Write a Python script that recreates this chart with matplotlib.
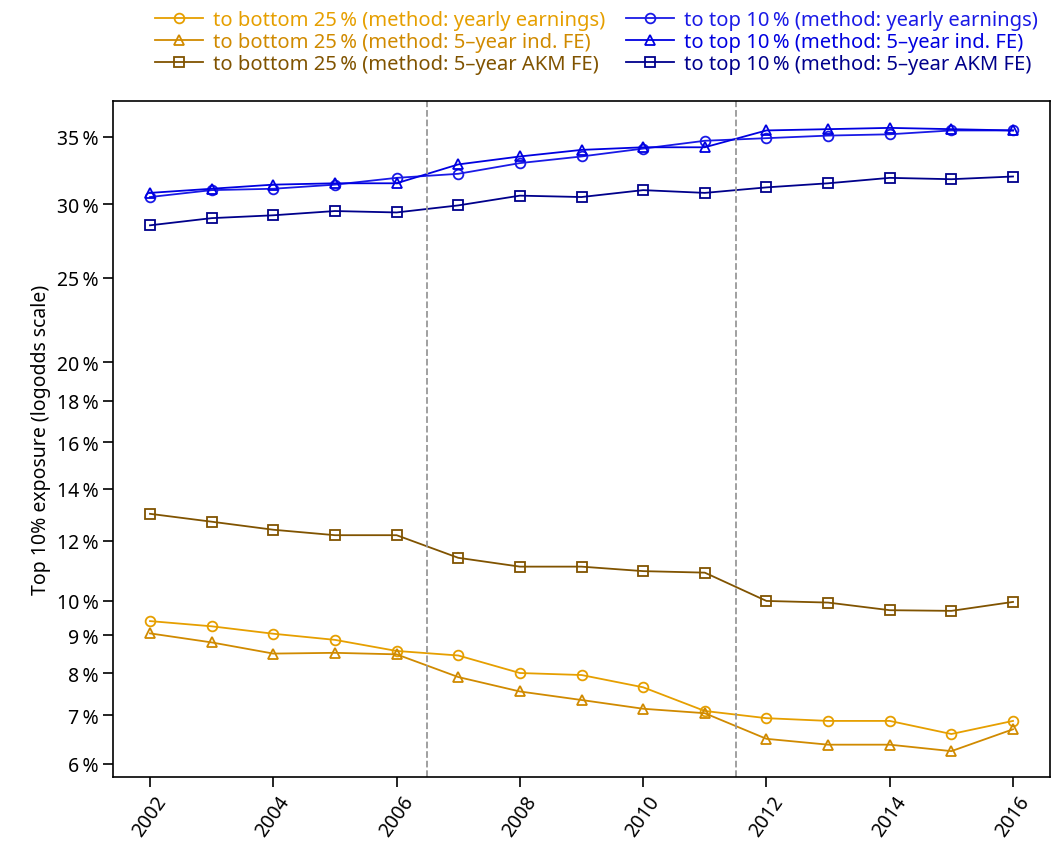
import numpy as np
import matplotlib
matplotlib.use("Agg")
import matplotlib.pyplot as plt

plt.rcParams['font.family'] = ['Noto Sans', 'DejaVu Sans']

years = list(range(2002, 2017))
top_yearly = [30.5, 31.0, 31.1, 31.4, 31.9, 32.2, 33.0, 33.5, 34.1, 34.7, 34.9, 35.1, 35.2, 35.5, 35.5]
top_ind = [30.8, 31.1, 31.4, 31.5, 31.5, 32.9, 33.5, 34.0, 34.2, 34.2, 35.5, 35.6, 35.7, 35.6, 35.5]
top_akm = [28.5, 29.0, 29.2, 29.5, 29.4, 29.9, 30.6, 30.5, 31.0, 30.8, 31.2, 31.5, 31.9, 31.8, 32.0]
bot_yearly = [9.4, 9.25, 9.04, 8.87, 8.57, 8.45, 8.0, 7.95, 7.65, 7.1, 6.94, 6.88, 6.88, 6.6, 6.88]
bot_ind = [9.05, 8.8, 8.5, 8.52, 8.48, 7.9, 7.55, 7.35, 7.15, 7.05, 6.5, 6.38, 6.38, 6.25, 6.7]
bot_akm = [13.0, 12.7, 12.4, 12.2, 12.2, 11.4, 11.1, 11.1, 10.95, 10.9, 10.0, 9.95, 9.72, 9.7, 9.97]
yticks = [6, 7, 8, 9, 10, 12, 14, 16, 18, 20, 25, 30, 35]

def fwd(p):
    p = np.clip(np.asarray(p, float) / 100, 1e-6, 1 - 1e-6)
    return np.log(p / (1 - p))
def inv(x):
    return 100 / (1 + np.exp(-np.asarray(x, float)))

fig = plt.figure(figsize=(10.61, 8.53), dpi=100)
ax = fig.add_axes([113/1061, 1-778/853, (1050-113)/1061, (778-102)/853])
ax.set_yscale('function', functions=(fwd, inv))

c_or, c_gold, c_br = '#E69F00', '#D08A00', '#805300'
c_bl, c_bl2, c_nv = '#1A1AE6', '#0000E0', '#00008B'
kw = dict(lw=1.3, ms=7, mfc='none', mew=1.3)
ax.plot(years, bot_yearly, marker='o', color=c_or, label='to bottom 25\u2009% (method: yearly earnings)', **kw)
ax.plot(years, bot_ind, marker='^', color=c_gold, label='to bottom 25\u2009% (method: 5\u2013year ind. FE)', **kw)
ax.plot(years, bot_akm, marker='s', color=c_br, label='to bottom 25\u2009% (method: 5\u2013year AKM FE)', **kw)
ax.plot(years, top_yearly, marker='o', color=c_bl, label='to top 10\u2009% (method: yearly earnings)', **kw)
ax.plot(years, top_ind, marker='^', color=c_bl2, label='to top 10\u2009% (method: 5\u2013year ind. FE)', **kw)
ax.plot(years, top_akm, marker='s', color=c_nv, label='to top 10\u2009% (method: 5\u2013year AKM FE)', **kw)

for xv in (2006.5, 2011.5):
    ax.axvline(xv, color='#999999', ls='--', lw=1.3)

ax.set_ylim(inv(-2.796), inv(-0.497))
ax.set_xlim(2001.4, 2016.6)
ax.set_yticks(yticks)
ax.set_yticklabels([f'{v}\u2009%' for v in yticks], fontsize=14)
ax.minorticks_off()
ax.set_xticks(list(range(2002, 2017, 2)))
ax.set_xticklabels([str(y) for y in range(2002, 2017, 2)], rotation=55, fontsize=14)
ax.set_ylabel('Top 10% exposure (logodds scale)', fontsize=14)
for s in ax.spines.values():
    s.set_linewidth(1.2)
ax.tick_params(width=1.2, length=7)

leg = fig.legend(loc='upper center', bbox_to_anchor=(0.562, 1.008), ncol=2, frameon=False,
                 fontsize=14.5, handlelength=2.4, columnspacing=1.0, labelspacing=0.1,
                 handletextpad=0.5)
for t, c in zip(leg.get_texts(), [c_or, c_gold, c_br, c_bl, c_bl2, c_nv]):
    t.set_color(c)
fig.savefig('out.png', dpi=100)
